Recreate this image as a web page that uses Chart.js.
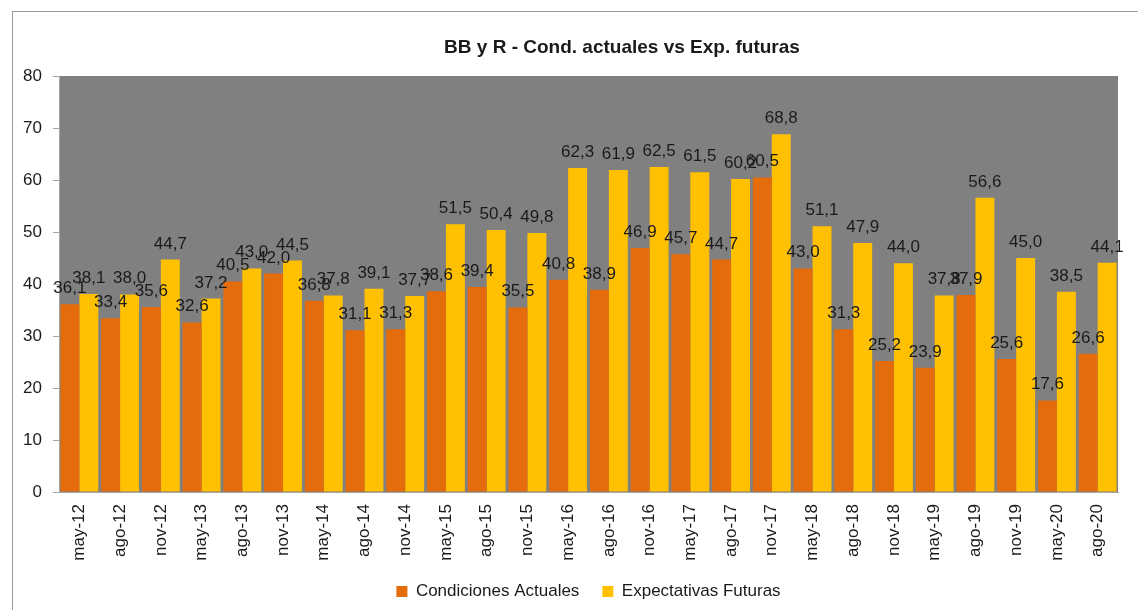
<!DOCTYPE html>
<html>
<head>
<meta charset="utf-8">
<script src="https://cdn.jsdelivr.net/npm/chart.js@4"></script>
<style>
  html, body { margin: 0; padding: 0; background: #fff; }
  #wrap { width: 1138px; height: 610px; }
</style>
</head>
<body>
<div id="wrap"><canvas id="chart" width="1138" height="610"></canvas></div>
<script>
// ==========================================
// DATOS
// ==========================================

const categories = ['may-12','ago-12','nov-12','may-13','ago-13','nov-13','may-14','ago-14','nov-14',
  'may-15','ago-15','nov-15','may-16','ago-16','nov-16','may-17','ago-17','nov-17',
  'may-18','ago-18','nov-18','may-19','ago-19','nov-19','may-20','ago-20'];

const condicionesActuales = [36.1, 33.4, 35.6, 32.6, 40.5, 42.0, 36.8, 31.1, 31.3,
  38.6, 39.4, 35.5, 40.8, 38.9, 46.9, 45.7, 44.7, 60.5,
  43.0, 31.3, 25.2, 23.9, 37.9, 25.6, 17.6, 26.6];

const expectativasFuturas = [38.1, 38.0, 44.7, 37.2, 43.0, 44.5, 37.8, 39.1, 37.7,
  51.5, 50.4, 49.8, 62.3, 61.9, 62.5, 61.5, 60.2, 68.8,
  51.1, 47.9, 44.0, 37.8, 56.6, 45.0, 38.5, 44.1];

const yTicks = [0, 10, 20, 30, 40, 50, 60, 70, 80];

const chartTitle = 'BB y R - Cond. actuales vs Exp. futuras';

const FONT = "'Liberation Sans', Arial, sans-serif";
const TEXT = '#1a1a1a';

function fmt(v) {
  return v.toFixed(1).replace('.', ',');
}

// ==========================================
// PLUGINS
// ==========================================

// fondo gris del área de gráfico, marco exterior y título
const backdrop = {
  id: 'backdrop',
  beforeDraw(chart) {
    const { ctx, chartArea: a } = chart;
    ctx.save();
    ctx.strokeStyle = '#9a9a9a';
    ctx.lineWidth = 1;
    ctx.strokeRect(12.5, 11.5, 1140, 700);
    ctx.fillStyle = '#808080';
    ctx.fillRect(a.left, a.top, a.right - a.left, a.bottom - a.top);

    // el título de Excel queda centrado sobre el marco completo
    ctx.font = 'bold 19px ' + FONT;
    ctx.fillStyle = TEXT;
    ctx.textAlign = 'center';
    ctx.textBaseline = 'middle';
    ctx.fillText(chartTitle, 622, 48);
    ctx.restore();
  }
};

// etiquetas de valor encima de cada barra
const valueLabels = {
  id: 'valueLabels',
  afterDatasetsDraw(chart) {
    const ctx = chart.ctx;
    ctx.save();
    ctx.font = '17px ' + FONT;
    ctx.fillStyle = TEXT;
    ctx.textAlign = 'center';
    ctx.textBaseline = 'alphabetic';
    chart.data.datasets.forEach((ds, i) => {
      chart.getDatasetMeta(i).data.forEach((bar, j) => {
        ctx.fillText(fmt(ds.data[j]), bar.x, bar.y - 11);
      });
    });
    ctx.restore();
  }
};

// ==========================================
// GRÁFICO
// ==========================================

new Chart(document.getElementById('chart'), {
  type: 'bar',
  data: {
    labels: categories,
    datasets: [
      { label: 'Condiciones Actuales', data: condicionesActuales, backgroundColor: '#E46C0A' },
      { label: 'Expectativas Futuras', data: expectativasFuturas, backgroundColor: '#FFC000' }
    ]
  },
  options: {
    responsive: false,
    animation: false,
    devicePixelRatio: 1,
    categoryPercentage: 0.93,
    barPercentage: 1.0,
    layout: { padding: { left: 12, right: 20, top: 76, bottom: 0 } },
    plugins: {
      title: { display: false },
      legend: {
        position: 'bottom',
        fullSize: false,
        labels: {
          color: TEXT,
          font: { family: FONT, size: 17 },
          boxWidth: 11,
          boxHeight: 11,
          padding: 23
        }
      },
      tooltip: { enabled: false }
    },
    scales: {
      x: {
        grid: { drawOnChartArea: false, drawTicks: false },
        border: { color: '#a6a6a6' },
        ticks: {
          color: TEXT,
          font: { family: FONT, size: 17 },
          maxRotation: 90,
          minRotation: 90,
          padding: 12
        },
        afterFit: s => { s.height = 68; }
      },
      y: {
        min: 0,
        max: 80,
        afterBuildTicks: s => { s.ticks = yTicks.map(v => ({ value: v })); },
        grid: { drawOnChartArea: false, tickLength: 6, color: '#a6a6a6' },
        border: { color: '#a6a6a6' },
        ticks: {
          color: TEXT,
          font: { family: FONT, size: 17 },
          padding: 11
        },
        afterFit: s => { s.width = 47; }
      }
    }
  },
  plugins: [backdrop, valueLabels]
});
</script>
</body>
</html>
